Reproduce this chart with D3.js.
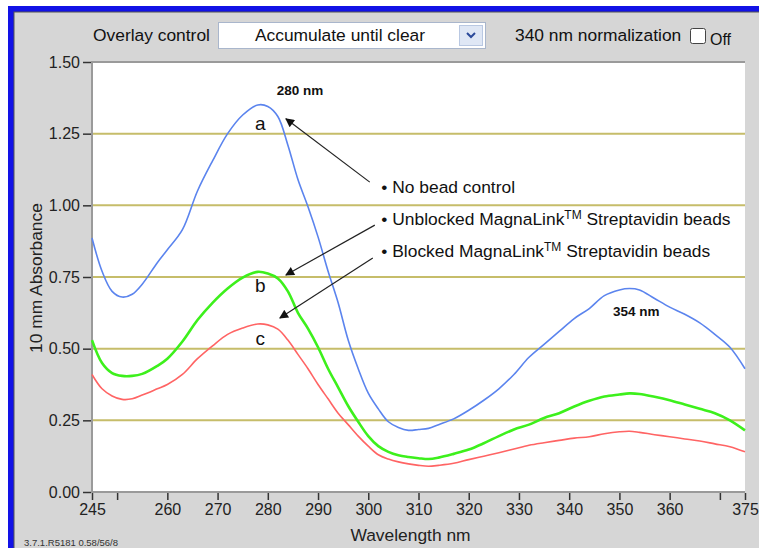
<!DOCTYPE html>
<html>
<head>
<meta charset="utf-8">
<script src="https://cdn.jsdelivr.net/npm/d3@7"></script>
<style>
  html, body { margin: 0; padding: 0; background: #fff; }
  svg { display: block; font-family: "Liberation Sans", Arial, sans-serif; }
</style>
</head>
<body>
<svg id="chart" width="759" height="548"></svg>
<script>
// wavelength samples (nm)
const wavelengths = [245, 247, 249, 251, 253, 255, 258, 260, 263, 266, 269, 272, 275, 278, 280, 282, 284, 286, 288, 290,
  292, 294, 296, 298, 300, 302, 304, 306, 308, 310, 312, 314, 317, 320, 323, 326, 329, 332, 335, 338,
  341, 344, 347, 350, 352, 354, 357, 360, 363, 366, 369, 372, 375];

// a: no bead control
const noBead = [0.886, 0.77, 0.70, 0.68, 0.69, 0.725, 0.80, 0.845, 0.915, 1.05, 1.155, 1.25, 1.315, 1.35, 1.345, 1.31, 1.21, 1.09, 0.995, 0.89,
  0.77, 0.66, 0.53, 0.43, 0.345, 0.29, 0.245, 0.225, 0.215, 0.218, 0.222, 0.235, 0.255, 0.285, 0.32, 0.36, 0.41, 0.47, 0.515, 0.56,
  0.605, 0.64, 0.685, 0.705, 0.71, 0.705, 0.675, 0.645, 0.62, 0.59, 0.55, 0.505, 0.43];

// b: unblocked beads
const unblocked = [0.53, 0.45, 0.415, 0.405, 0.405, 0.412, 0.44, 0.465, 0.525, 0.60, 0.66, 0.71, 0.748, 0.768, 0.762, 0.745, 0.70, 0.625, 0.57, 0.505,
  0.43, 0.365, 0.30, 0.245, 0.195, 0.16, 0.14, 0.128, 0.122, 0.118, 0.115, 0.12, 0.133, 0.148, 0.17, 0.195, 0.218, 0.235, 0.258, 0.275,
  0.298, 0.318, 0.333, 0.34, 0.344, 0.342, 0.332, 0.32, 0.305, 0.29, 0.275, 0.25, 0.215];

// c: blocked beads
const blocked = [0.41, 0.36, 0.335, 0.323, 0.325, 0.338, 0.36, 0.375, 0.41, 0.465, 0.51, 0.55, 0.572, 0.586, 0.583, 0.568, 0.53, 0.48, 0.43, 0.375,
  0.325, 0.275, 0.235, 0.195, 0.16, 0.13, 0.115, 0.105, 0.098, 0.093, 0.09, 0.093, 0.10, 0.113, 0.125, 0.137, 0.15, 0.163, 0.172, 0.18,
  0.188, 0.193, 0.203, 0.21, 0.212, 0.208, 0.20, 0.193, 0.185, 0.178, 0.168, 0.158, 0.14];

const yTicks = [0, 0.25, 0.5, 0.75, 1.0, 1.25, 1.5];
const xTicks = [245, 250, 260, 270, 280, 290, 300, 310, 320, 330, 340, 350, 360, 370, 375];
const xTickLabels = [245, 260, 270, 280, 290, 300, 310, 320, 330, 340, 350, 360, 375];

// legend lines with arrows (tail -> tip, in data units)
const legendLines = ['No bead control', 'Unblocked MagnaLink', 'Blocked MagnaLink'];
const arrows = [
  { from: [300.3, 1.081], to: [283.6, 1.302] },
  { from: [301.3, 0.931], to: [283.6, 0.757] },
  { from: [300.9, 0.816], to: [282.4, 0.607] },
];

const svg = d3.select('#chart');

// window frame
svg.append('rect').attr('x', 8).attr('y', 6).attr('width', 800).attr('height', 600).attr('fill', '#1212e6');
svg.append('rect').attr('x', 14).attr('y', 12).attr('width', 800).attr('height', 600)
  .attr('fill', '#d6d6d6').attr('stroke', '#555').attr('stroke-width', 1);

// top controls
const ctl = svg.append('g').style('font-size', '17.4px').attr('fill', '#111');
ctl.append('text').attr('x', 93).attr('y', 41).text('Overlay control');
ctl.append('rect').attr('x', 218.5).attr('y', 22.5).attr('width', 267).attr('height', 26)
  .attr('fill', '#fff').attr('stroke', '#a9b6cc');
ctl.append('text').attr('x', 340).attr('y', 41).attr('text-anchor', 'middle').text('Accumulate until clear');
ctl.append('rect').attr('x', 459.5).attr('y', 25.5).attr('width', 23).attr('height', 20)
  .attr('fill', '#dfe7f5').attr('stroke', '#b9c8e2');
ctl.append('path').attr('d', 'M467,33 L471,37 L475,33').attr('fill', 'none').attr('stroke', '#2b4a9a').attr('stroke-width', 2);
ctl.append('text').attr('x', 515).attr('y', 41).text('340 nm normalization');
ctl.append('rect').attr('x', 690.5).attr('y', 28.5).attr('width', 15).attr('height', 15).attr('rx', 2)
  .attr('fill', '#fff').attr('stroke', '#444');
ctl.append('text').attr('x', 710).attr('y', 45).style('font-size', '16px').text('Off');

// plot
const margin = { top: 62, right: 14, bottom: 56, left: 92 };
const W = 759 - margin.left - margin.right;
const H = 548 - margin.top - margin.bottom;

const x = d3.scaleLinear().domain([245, 375]).range([margin.left, margin.left + W]);
const y = d3.scaleLinear().domain([0, 1.5]).range([margin.top + H, margin.top]);

svg.append('rect').attr('x', margin.left).attr('y', margin.top).attr('width', W).attr('height', H).attr('fill', '#fff');

// horizontal grid lines
svg.append('g').selectAll('line').data(yTicks.filter(d => d > 0 && d < 1.5)).enter().append('line')
  .attr('x1', margin.left).attr('x2', margin.left + W)
  .attr('y1', d => y(d)).attr('y2', d => y(d))
  .attr('stroke', '#c6bd6a').attr('stroke-width', 2);

// plot border (top, left, bottom)
svg.append('path')
  .attr('d', `M${margin.left + W},${margin.top} H${margin.left} V${margin.top + H} H${margin.left + W}`)
  .attr('fill', 'none').attr('stroke', '#9a9a9a').attr('stroke-width', 2);

// axes
const yAxis = svg.append('g').attr('transform', `translate(${margin.left - 1},0)`)
  .call(d3.axisLeft(y).tickValues(yTicks).tickFormat(d3.format('.2f')).tickSize(8).tickPadding(3));
const xAxis = svg.append('g').attr('transform', `translate(0,${margin.top + H + 1})`)
  .call(d3.axisBottom(x).tickValues(xTicks).tickFormat(d => xTickLabels.includes(d) ? d : '').tickSize(7).tickPadding(4));
[yAxis, xAxis].forEach(a => {
  a.select('.domain').remove();
  a.selectAll('line').attr('stroke', '#333').attr('stroke-width', 1.5);
  a.selectAll('text').attr('fill', '#222').style('font-size', '16px').style('font-family', '"Liberation Sans", Arial, sans-serif');
});

svg.append('text').attr('x', margin.left + W / 2 - 8).attr('y', 541).attr('text-anchor', 'middle')
  .style('font-size', '17.4px').attr('fill', '#222').text('Wavelength nm');
svg.append('text').attr('transform', 'translate(42,278) rotate(-90)').attr('text-anchor', 'middle')
  .style('font-size', '17.4px').attr('fill', '#222').text('10 mm Absorbance');
svg.append('text').attr('x', 24).attr('y', 546).style('font-size', '9.5px').attr('fill', '#333').text('3.7.1.R5181 0.58/56/8');

// spectra
const series = [
  { values: noBead, color: '#5b84ee', width: 1.6 },
  { values: unblocked, color: '#3df01c', width: 2.6 },
  { values: blocked, color: '#ff6464', width: 1.6 },
];
const line = d3.line().x((d, i) => x(wavelengths[i])).y(d => y(d)).curve(d3.curveCatmullRom.alpha(0.5));
svg.append('g').selectAll('path').data(series).enter().append('path')
  .attr('d', d => line(d.values))
  .attr('fill', 'none').attr('stroke', d => d.color).attr('stroke-width', d => d.width);

// annotations
const ann = svg.append('g').attr('fill', '#111');
ann.append('text').attr('x', x(281.8)).attr('y', y(1.385)).style('font-size', '13.5px').style('font-weight', 'bold').text('280 nm');
ann.append('text').attr('x', x(348.7)).attr('y', y(0.614)).style('font-size', '13.5px').style('font-weight', 'bold').text('354 nm');
[['a', 1.263], ['b', 0.698], ['c', 0.513]].forEach(([t, v]) => {
  ann.append('text').attr('x', x(278.5)).attr('y', y(v)).attr('text-anchor', 'middle').style('font-size', '19px').text(t);
});

const legendY = [1.043, 0.931, 0.820];
legendLines.forEach((t, i) => {
  const txt = ann.append('text').attr('x', x(302.6)).attr('y', y(legendY[i])).style('font-size', '17.4px');
  txt.append('tspan').text('\u2022 ' + t);
  if (i > 0) {
    txt.append('tspan').attr('dy', -6).style('font-size', '12px').text('TM');
    txt.append('tspan').attr('dy', 6).text(' Streptavidin beads');
  }
});

svg.append('defs').append('marker').attr('id', 'head').attr('viewBox', '0 0 10 10')
  .attr('refX', 9).attr('refY', 5).attr('markerWidth', 11).attr('markerHeight', 9)
  .attr('markerUnits', 'userSpaceOnUse').attr('orient', 'auto')
  .append('path').attr('d', 'M0,0 L10,5 L0,10 Z').attr('fill', '#111');
svg.append('g').selectAll('line').data(arrows).enter().append('line')
  .attr('x1', d => x(d.from[0])).attr('y1', d => y(d.from[1]))
  .attr('x2', d => x(d.to[0])).attr('y2', d => y(d.to[1]))
  .attr('stroke', '#222').attr('stroke-width', 1.2).attr('marker-end', 'url(#head)');
</script>
</body>
</html>
